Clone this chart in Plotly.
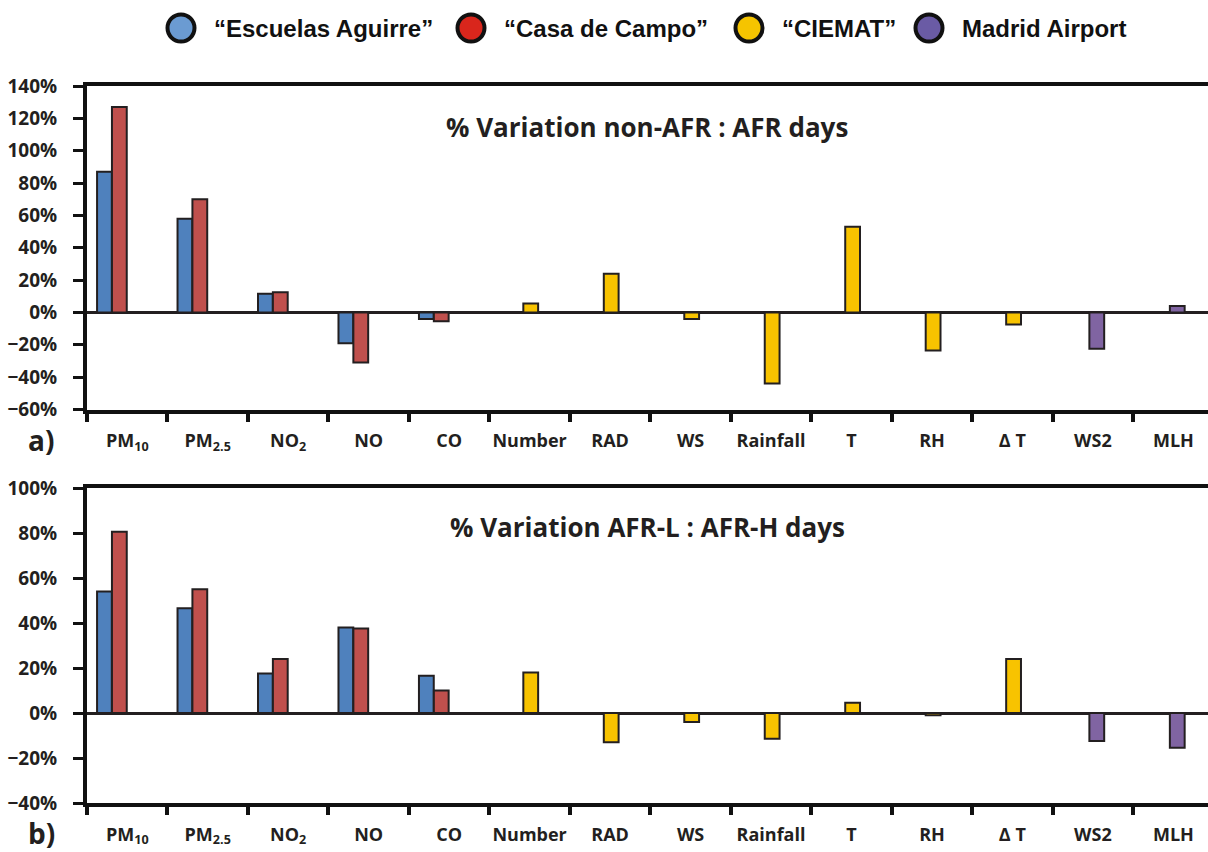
import plotly.graph_objects as go

W, H = 1208, 852

categories = ["PM<sub>10</sub>", "PM<sub>2.5</sub>", "NO<sub>2</sub>", "NO", "CO", "Number",
              "RAD", "WS", "Rainfall", "T", "RH", "∆ T", "WS2", "MLH"]
series_names = ["“Escuelas Aguirre”", "“Casa de Campo”", "“CIEMAT”", "Madrid Airport"]

# a) % variation non-AFR : AFR days
a_escuelas = [87, 58, 11.5, -19, -4, None, None, None, None, None, None, None, None, None]
a_casa = [127, 70, 12.5, -31, -5.5, None, None, None, None, None, None, None, None, None]
a_ciemat = [None, None, None, None, None, 5.5, 24, -4, -44, 53, -23.5, -7.5, None, None]
a_airport = [None] * 12 + [-22.5, 4]

# b) % variation AFR-L : AFR-H days
b_escuelas = [54, 46.5, 17.5, 38, 16.5, None, None, None, None, None, None, None, None, None]
b_casa = [80.5, 55, 24, 37.5, 10, None, None, None, None, None, None, None, None, None]
b_ciemat = [None, None, None, None, None, 18, -13, -4, -11.5, 4.5, -1, 24, None, None]
b_airport = [None] * 12 + [-12.5, -15.5]

titles = ["% Variation non-AFR : AFR days", "% Variation AFR-L : AFR-H days"]
panel_tags = ["a)", "b)"]

bar_colors = ["#4f81bd", "#c0504d", "#f8c300", "#8064a2"]
legend_colors = ["#6b9bd2", "#d9261c", "#f5c400", "#6a5ba5"]
# bar left edge relative to category centre, in category units
bar_offsets = [-0.375, -0.19, -0.078, -0.044]
bar_width = 0.184
edge = "#231f20"
axis_col = "#111111"
label_family = "Open Sans, Lato, sans-serif"


def px_x(x):
    return x / W


def px_y(y):
    return 1 - y / H


fig = go.Figure()

panels = [
    ([a_escuelas, a_casa, a_ciemat, a_airport], "x", "y"),
    ([b_escuelas, b_casa, b_ciemat, b_airport], "x2", "y2"),
]
for series, xa, ya in panels:
    for name, vals, col, off in zip(series_names, series, bar_colors, bar_offsets):
        fig.add_trace(go.Bar(
            x=categories, y=vals, name=name, xaxis=xa, yaxis=ya,
            offset=off, width=bar_width,
            marker=dict(color=col, line=dict(color=edge, width=2)),
            showlegend=False,
        ))

xtick_font = dict(family=label_family, size=18, color=edge, weight="bold")
ytick_font = dict(family=label_family, size=19, color=edge, weight="bold")
xdom = [px_x(87), 1.0]
xrange = [-0.5, 13.43]

common_x = dict(
    type="category", categoryorder="array", categoryarray=categories,
    range=xrange, domain=xdom, showline=True, linewidth=4, linecolor=axis_col,
    mirror=True, ticks="outside", tickson="boundaries", ticklen=8, tickwidth=4,
    tickcolor=axis_col, tickfont=xtick_font, ticklabelstandoff=12, tickangle=0,
    showgrid=False, zeroline=False, fixedrange=True, automargin=False,
)
common_y = dict(
    showline=True, linewidth=4, linecolor=axis_col, ticks="outside", ticklen=10,
    tickwidth=3, tickcolor=axis_col, tickfont=ytick_font, ticksuffix="%",
    dtick=20, showgrid=False, zeroline=True, zerolinecolor=edge, zerolinewidth=3,
    ticklabelstandoff=12, fixedrange=True, automargin=False,
)

fig.update_layout(
    width=W, height=H,
    margin=dict(l=0, r=0, t=0, b=0, autoexpand=False),
    paper_bgcolor="white", plot_bgcolor="white",
    barmode="overlay",
    showlegend=False,
    xaxis=dict(anchor="y", **common_x),
    yaxis=dict(anchor="x", domain=[px_y(409.5), px_y(86)], range=[-60, 140], **common_y),
    xaxis2=dict(anchor="y2", **common_x),
    yaxis2=dict(anchor="x2", domain=[px_y(803), px_y(488)], range=[-40, 100], **common_y),
)

annotations = []
# panel titles
for title, ycen in zip(titles, [127, 527]):
    annotations.append(dict(
        text=title, x=px_x(647), y=px_y(ycen), xref="paper", yref="paper",
        xanchor="center", yanchor="middle", showarrow=False,
        font=dict(family=label_family, size=26, color=edge, weight="bold"),
    ))
# panel tags
for tag, ycen in zip(panel_tags, [440, 833]):
    annotations.append(dict(
        text=tag, x=px_x(41), y=px_y(ycen), xref="paper", yref="paper",
        xanchor="center", yanchor="middle", showarrow=False,
        font=dict(family=label_family, size=28, color=edge, weight="bold"),
    ))

# legend row along the top
shapes = []
legend_circle_x = [181, 471, 749, 929]
legend_text_x = [212, 502, 780, 960]
ly = 28
r = 13.5
for name, col, cx, tx in zip(series_names, legend_colors, legend_circle_x, legend_text_x):
    shapes.append(dict(
        type="circle", xref="paper", yref="paper",
        x0=px_x(cx - r), x1=px_x(cx + r), y0=px_y(ly + r), y1=px_y(ly - r),
        fillcolor=col, line=dict(color=axis_col, width=4),
    ))
    annotations.append(dict(
        text=name, x=px_x(tx), y=px_y(ly), xref="paper", yref="paper",
        xanchor="left", yanchor="middle", showarrow=False,
        font=dict(family="Liberation Sans, Arial, sans-serif", size=24, color=axis_col, weight="bold"),
    ))

fig.update_layout(annotations=annotations, shapes=shapes)

fig.write_html("out.html")
